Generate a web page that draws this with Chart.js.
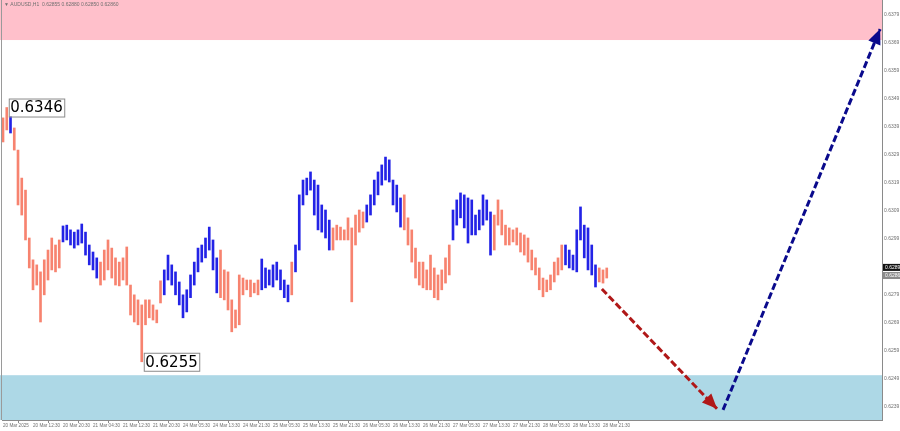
<!DOCTYPE html>
<html><head><meta charset="utf-8">
<script src="https://cdn.jsdelivr.net/npm/chart.js@4.4.1/dist/chart.umd.min.js"></script>
<style>html,body{margin:0;padding:0;background:#fff;}canvas{display:block;}</style>
</head><body>
<canvas id="c" width="900" height="431"></canvas>
<script>
// ---------- DATA ----------
const symbolTitle = '\u25BC AUDUSD,H1  0.62855 0.62880 0.62850 0.62860';
const barHighs = [
0.63423,0.63460,0.63451,0.63387,0.63308,0.63208,0.63165,0.62994,0.62916,0.62898,
0.62873,0.62916,0.62951,0.62994,0.62969,0.62987,0.63037,0.63040,0.63023,0.63015,
0.63023,0.63044,0.63015,0.62969,0.62944,0.62923,0.62908,0.62951,0.62987,0.62958,
0.62923,0.62908,0.62923,0.62962,0.62826,0.62791,0.62773,0.62755,0.62773,0.62773,
0.62755,0.62737,0.62841,0.62880,0.62933,0.62898,0.62873,0.62837,0.62791,0.62809,
0.62862,0.62908,0.62958,0.62969,0.62994,0.63033,0.62987,0.62923,0.62951,0.62880,
0.62873,0.62773,0.62737,0.62862,0.62851,0.62844,0.62844,0.62833,0.62844,0.62919,
0.62887,0.62880,0.62898,0.62908,0.62880,0.62844,0.62826,0.62908,0.62969,0.63148,
0.63201,0.63208,0.63230,0.63201,0.63183,0.63112,0.63094,0.63058,0.63030,0.63040,
0.63033,0.63023,0.63066,0.63030,0.63076,0.63094,0.63087,0.63112,0.63148,0.63201,
0.63230,0.63255,0.63283,0.63273,0.63201,0.63183,0.63137,0.63148,0.63066,0.63023,
0.62958,0.62908,0.62908,0.62880,0.62933,0.62887,0.62862,0.62880,0.62923,0.62969,
0.63094,0.63130,0.63155,0.63148,0.63137,0.63130,0.63076,0.63094,0.63148,0.63130,
0.63087,0.63076,0.63130,0.63094,0.63040,0.63030,0.63023,0.63030,0.63012,0.63005,
0.62994,0.62951,0.62923,0.62887,0.62851,0.62844,0.62862,0.62908,0.62923,0.62969,
0.62969,0.62951,0.62933,0.63023,0.63105,0.63040,0.63030,0.62969,0.62898,0.62887,
0.62880,0.62887];
const barLows = [
0.63337,0.63380,0.63369,0.63308,0.63112,0.63076,0.62987,0.62887,0.62809,0.62826,
0.62694,0.62791,0.62844,0.62880,0.62873,0.62887,0.62980,0.62987,0.62969,0.62958,
0.62969,0.62976,0.62933,0.62898,0.62880,0.62851,0.62826,0.62844,0.62880,0.62851,
0.62826,0.62823,0.62844,0.62826,0.62719,0.62694,0.62684,0.62552,0.62684,0.62709,
0.62701,0.62691,0.62762,0.62791,0.62844,0.62826,0.62791,0.62755,0.62709,0.62730,
0.62781,0.62826,0.62873,0.62908,0.62923,0.62951,0.62880,0.62798,0.62781,0.62773,
0.62737,0.62659,0.62673,0.62684,0.62791,0.62809,0.62784,0.62798,0.62791,0.62809,
0.62816,0.62826,0.62819,0.62844,0.62809,0.62781,0.62766,0.62791,0.62873,0.62951,
0.63112,0.63148,0.63165,0.63076,0.63023,0.63015,0.62994,0.62951,0.62951,0.62987,
0.62987,0.62987,0.62987,0.62766,0.62969,0.63015,0.63030,0.63051,0.63076,0.63112,
0.63148,0.63183,0.63201,0.63194,0.63112,0.63087,0.63033,0.63023,0.62969,0.62908,
0.62851,0.62826,0.62816,0.62809,0.62809,0.62781,0.62773,0.62809,0.62833,0.62862,
0.62987,0.63040,0.63066,0.63030,0.62976,0.63005,0.63005,0.63023,0.63040,0.63058,
0.62933,0.62951,0.63040,0.63005,0.62969,0.62969,0.62980,0.62969,0.62944,0.62933,
0.62908,0.62880,0.62862,0.62809,0.62784,0.62802,0.62809,0.62837,0.62862,0.62880,
0.62898,0.62887,0.62880,0.62873,0.62987,0.62923,0.62880,0.62862,0.62819,0.62837,
0.62833,0.62851];
const blueWaveRanges = [[2,2],[16,25],[43,57],[69,76],[78,87],[97,106],[120,130],[150,158]];
const xTickIndex = [0,8,16,24,32,40,48,56,64,72,80,88,96,104,112,120,128,136,144,152,160];
const xTickLabels = ['20 Mar 2025','20 Mar 12:30','20 Mar 20:30','21 Mar 04:30','21 Mar 12:30','21 Mar 20:30',
  '24 Mar 05:30','24 Mar 13:30','24 Mar 21:30','25 Mar 05:30','25 Mar 13:30','25 Mar 21:30',
  '26 Mar 05:30','26 Mar 13:30','26 Mar 21:30','27 Mar 05:30','27 Mar 13:30','27 Mar 21:30',
  '28 Mar 05:30','28 Mar 13:30','28 Mar 21:30'];
const yTickValues = [0.6239,0.6249,0.6259,0.6269,0.6279,0.6289,0.6299,0.6309,0.6319,0.6329,0.6339,0.6349,0.6359,0.6369,0.6379];
const yRange = [0.62344, 0.63844];
const xRange = [-0.27, 234.4];
const resistanceZone = [0.63701, 0.63844];
const supportZone = [0.62344, 0.62504];
const markedHighBar = [1];
const markedLowBar = [37];
const bearishArrowX = [159.7, 190.4];
const bearishArrowY = [0.62812, 0.62384];
const bullishArrowX = [192.0, 233.9];
const bullishArrowY = [0.62380, 0.63740];
const priceTags = [0.62889, 0.62860];

// ---------- STYLE ----------
const SALMON = '#f7836f', BLUE = '#2323e6';
const AXIS_FONT = '"Liberation Sans", Arial, sans-serif';
const isBlue = i => blueWaveRanges.some(([a,b]) => i >= a && i <= b);
const barData = barHighs.map((h,i) => ({x:i, y:[barLows[i], h]}));
const barColors = barHighs.map((h,i) => isBlue(i) ? BLUE : SALMON);

const zonePlugin = {
  id:'zones',
  beforeDatasetsDraw(chart){
    const {ctx, chartArea:a, scales:{y}} = chart;
    ctx.save();
    const band = (z, col) => {
      const t = y.getPixelForValue(z[1]), b = y.getPixelForValue(z[0]);
      ctx.fillStyle = col;
      ctx.fillRect(0, t, a.right, b - t);
    };
    band(resistanceZone, '#ffc0cb');
    band(supportZone, '#add8e6');
    ctx.restore();
  }
};

const overlayPlugin = {
  id:'overlay',
  afterDatasetsDraw(chart){
    const {ctx, scales:{x,y}} = chart;
    ctx.save();
    const head = (xs, ys, col) => {
      const x1 = x.getPixelForValue(xs[0]), y1 = y.getPixelForValue(ys[0]);
      const x2 = x.getPixelForValue(xs[1]), y2 = y.getPixelForValue(ys[1]);
      const ang = Math.atan2(y2 - y1, x2 - x1);
      const L = 15, W = 6.5;
      ctx.fillStyle = col;
      ctx.beginPath();
      ctx.moveTo(x2, y2);
      ctx.lineTo(x2 - L*Math.cos(ang) + W*Math.sin(ang), y2 - L*Math.sin(ang) - W*Math.cos(ang));
      ctx.lineTo(x2 - L*Math.cos(ang) - W*Math.sin(ang), y2 - L*Math.sin(ang) + W*Math.cos(ang));
      ctx.closePath();
      ctx.fill();
    };
    head(bearishArrowX, bearishArrowY, '#b01818');
    head(bullishArrowX, bullishArrowY, '#0a0a8c');
    const mark = (i, v) => {
      const px = x.getPixelForValue(i), py = y.getPixelForValue(v);
      ctx.font = '15px "DejaVu Sans", sans-serif';
      const txt = v.toFixed(4);
      const w = ctx.measureText(txt).width + 3, h = 18;
      const bx = px + 2, by = py - h/2;
      ctx.fillStyle = '#ffffff';
      ctx.fillRect(bx, by, w, h);
      ctx.strokeStyle = '#8a8a8a'; ctx.lineWidth = 1;
      ctx.strokeRect(bx + 0.5, by + 0.5, w, h);
      ctx.fillStyle = '#000';
      ctx.textBaseline = 'middle'; ctx.textAlign = 'left';
      ctx.fillText(txt, bx + 1.5, py + 1);
    };
    markedHighBar.forEach(i => mark(i, barHighs[i]));
    markedLowBar.forEach(i => mark(i, barLows[i]));
    ctx.restore();
  },
  afterDraw(chart){
    const {ctx, chartArea:a, scales:{y}} = chart;
    ctx.save();
    ctx.strokeStyle = '#9a9a9a'; ctx.lineWidth = 1;
    ctx.beginPath(); ctx.moveTo(a.left - 0.5, 0); ctx.lineTo(a.left - 0.5, a.bottom); ctx.stroke();
    ctx.fillStyle = '#707070';
    ctx.font = '5px ' + AXIS_FONT;
    ctx.textBaseline = 'middle'; ctx.textAlign = 'left';
    ctx.fillText(symbolTitle, 4, 5);
    priceTags.forEach((v, k) => {
      const py = y.getPixelForValue(v);
      ctx.fillStyle = k === 0 ? '#111' : '#8c8c8c';
      ctx.fillRect(a.right + 1, py - 3.5, 17, 7);
      ctx.fillStyle = '#fff';
      ctx.font = '5px ' + AXIS_FONT;
      ctx.fillText(v.toFixed(4), a.right + 3, py);
    });
    ctx.restore();
  }
};

new Chart(document.getElementById('c'), {
  type:'bar',
  data:{
    datasets:[
      {type:'bar', data:barData, backgroundColor:barColors, borderWidth:0, barThickness:2, grouped:false, order:2},
      {type:'line', data:bearishArrowX.map((v,i)=>({x:v,y:bearishArrowY[i]})), borderColor:'#b01818', borderWidth:3, borderDash:[7,3], pointRadius:0, fill:false, order:1, clip:false},
      {type:'line', data:bullishArrowX.map((v,i)=>({x:v,y:bullishArrowY[i]})), borderColor:'#0a0a8c', borderWidth:3, borderDash:[7,3], pointRadius:0, fill:false, order:1, clip:false}
    ]
  },
  options:{
    responsive:false, animation:false, devicePixelRatio:1,
    layout:{padding:{left:2, top:0, right:0, bottom:0}},
    plugins:{legend:{display:false}, tooltip:{enabled:false}},
    scales:{
      x:{type:'linear', min:xRange[0], max:xRange[1], offset:false,
        afterBuildTicks(s){ s.ticks = xTickIndex.map(v=>({value:v})); },
        afterFit(s){ s.height = 11; s.paddingLeft = 0; s.paddingRight = 0; },
        grid:{display:true, drawOnChartArea:false, drawTicks:true, tickLength:3, color:'#8a8a8a'},
        border:{display:true, color:'#8a8a8a'},
        ticks:{autoSkip:false, maxRotation:0, minRotation:0, align:'start', padding:0,
          color:'#707070', font:{size:4.6, family:AXIS_FONT},
          callback:(v,i)=>xTickLabels[i]}
      },
      y:{type:'linear', position:'right', min:yRange[0], max:yRange[1],
        afterBuildTicks(s){ s.ticks = yTickValues.map(v=>({value:v})); },
        afterFit(s){ s.width = 18; s.paddingTop = 0; s.paddingBottom = 0; },
        grid:{display:true, drawOnChartArea:false, drawTicks:true, tickLength:1, color:'#8a8a8a'},
        border:{display:true, color:'#8a8a8a'},
        ticks:{padding:1, color:'#707070', font:{size:5, family:AXIS_FONT},
          callback:v=>Number(v).toFixed(4)}
      }
    }
  },
  plugins:[zonePlugin, overlayPlugin]
});
</script>
</body></html>
